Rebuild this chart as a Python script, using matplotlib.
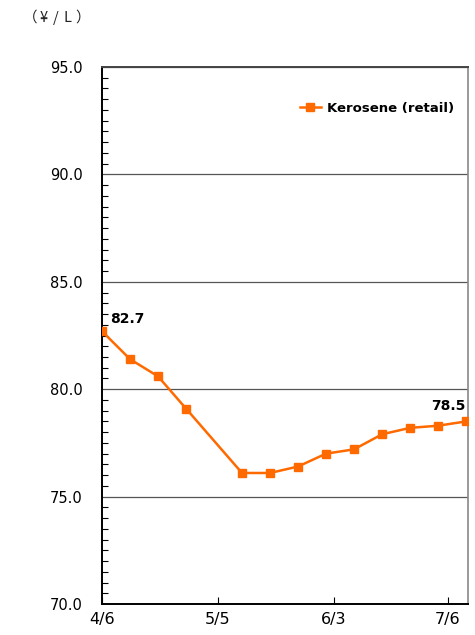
import matplotlib
matplotlib.use("Agg")
import matplotlib.pyplot as plt
from matplotlib.ticker import MultipleLocator

# Weekly retail kerosene price (yen per litre); day offsets from 4/6
days = [0, 7, 14, 21, 35, 42, 49, 56, 63, 70, 77, 84, 91]
prices = [82.7, 81.4, 80.6, 79.1, 76.1, 76.1, 76.4, 77.0, 77.2, 77.9, 78.2, 78.3, 78.5]
tick_days = [0, 29, 58, 86.5]
tick_labels = ["4/6", "5/5", "6/3", "7/6"]
series_name = "Kerosene (retail)"
unit_label = "（¥/L）"

orange = "#FF6A00"
plt.rcParams["font.family"] = ["DejaVu Sans"]

fig = plt.figure(figsize=(4.75, 6.35), dpi=100)
ax = fig.add_axes([0.2147, 0.0488, 0.7706, 0.8457])

ax.plot(days, prices, color=orange, lw=1.8, marker="s", ms=5.5,
        markeredgecolor=orange, label=series_name, zorder=3)

ax.set_xlim(0, 91.5)
ax.set_ylim(70, 95)
ax.yaxis.set_major_locator(MultipleLocator(5))
ax.yaxis.set_minor_locator(MultipleLocator(0.5))
ax.set_yticklabels([f"{v:.1f}" for v in ax.get_yticks()])
ax.set_xticks(tick_days)
ax.set_xticklabels(tick_labels)

ax.grid(axis="y", which="major", color="#555555", lw=0.9)
ax.tick_params(axis="y", which="major", direction="in", length=0, labelsize=10.5, pad=14)
ax.tick_params(axis="y", which="minor", direction="in", length=4, width=0.8)
ax.tick_params(axis="x", direction="in", length=5, labelsize=11.5, pad=6)

for side in ("left", "bottom"):
    ax.spines[side].set_color("black")
    ax.spines[side].set_linewidth(1.4)
ax.spines["top"].set_color("#444444")
ax.spines["top"].set_linewidth(1.4)
ax.spines["right"].set_color("#888888")
ax.spines["right"].set_linewidth(1.2)

# Value labels at the first and last points
ax.annotate(f"{prices[0]:.1f}", (days[0], prices[0]), xytext=(6, 6),
            textcoords="offset points", fontsize=10, fontweight="bold")
ax.annotate(f"{prices[-1]:.1f}", (days[-1], prices[-1]), xytext=(-25, 8),
            textcoords="offset points", fontsize=10, fontweight="bold")

leg = ax.legend(loc="upper right", bbox_to_anchor=(0.985, 0.95), frameon=False,
                prop={"weight": "bold", "size": 9.5}, handlelength=1.6,
                handletextpad=0.5, borderaxespad=0.2)

# Unit caption, set in a fixed-pitch, widely spaced style
W, H = fig.get_size_inches() * fig.dpi
char_x = [30, 44, 56, 67.5, 83]
for ch, px in zip(unit_label, char_x):
    fig.text(px / W, 1 - 18 / H, ch, fontsize=10.5, ha="center", va="center",
             family=["Noto Sans CJK JP", "DejaVu Sans"], color="#222222")

fig.savefig("out.png", dpi=100)
